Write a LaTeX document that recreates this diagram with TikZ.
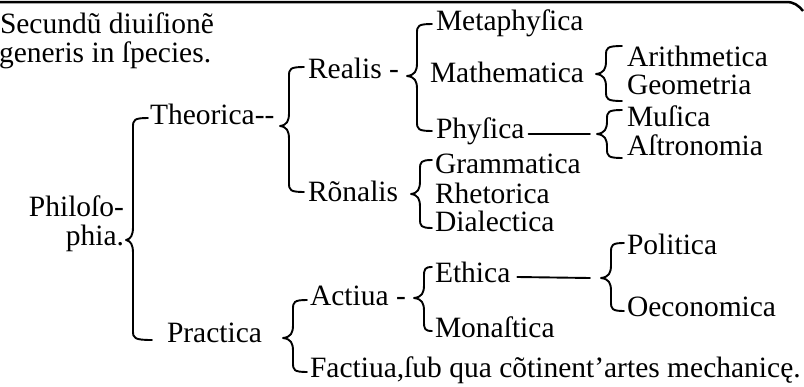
\documentclass[tikz,border=0pt]{standalone}
\usepackage{fontspec}
\setmainfont{Liberation Serif}
% brace: #1 spine x, #2/#3 top hook end, #4/#5 cusp, #6/#7 bottom hook end (px, y downward)
\newcommand\brc[7]{%
  \draw[brcline] (#2,#3) .. controls (#1+1,#3) and (#1,#3+2) .. (#1,#3+9)
    -- (#1,#5-13) .. controls (#1,#5-5) and (#1-2,#5-1) .. (#4,#5)
    .. controls (#1-2,#5+1) and (#1,#5+5) .. (#1,#5+13)
    -- (#1,#7-9) .. controls (#1,#7-2) and (#1+1,#7) .. (#6,#7);}
\begin{document}
\begin{tikzpicture}[x=1pt,y=-1pt,
  every node/.style={inner sep=0pt, outer sep=0pt, font=\fontsize{29.5}{32}\selectfont},
  lbl/.style={anchor=base west},
  brcline/.style={line width=1.9pt, line cap=round, line join=round},
  rul/.style={line width=1.9pt, line cap=round}]
\useasboundingbox (0,0) rectangle (804,386);
\fill[white] (0,0) rectangle (804,386);
\draw[line width=2.5pt] (0,2) -- (786,2) .. controls (794,2) and (798,5) .. (803,11);
% texts
\node[lbl] (sec1) at (0,33) {Secundũ diuiſionẽ};
\node[lbl] (sec2) at (-1,62) {generis in ſpecies.};
\node[anchor=base east] (phil1) at (124,216) {Philoſo-};
\node[anchor=base east] (phil2) at (124,245) {phia.};
\node[lbl] (theo) at (150,124) {Theorica-{}-};
\node[lbl] (prac) at (167,342) {Practica};
\node[lbl] (real) at (308,78) {Realis -};
\node[lbl] (ron) at (308,201) {Rõnalis};
\node[lbl] (meta) at (436,30) {Metaphyſica};
\node[lbl] (math) at (430,82) {Mathematica};
\node[lbl] (phys) at (436,138) {Phyſica};
\node[lbl] (arit) at (627,66) {Arithmetica};
\node[lbl] (geom) at (627,94) {Geometria};
\node[lbl] (musi) at (627,126) {Muſica};
\node[lbl] (astr) at (627,155) {Aſtronomia};
\node[lbl] (gram) at (435,173) {Grammatica};
\node[lbl] (rhet) at (435,203) {Rhetorica};
\node[lbl] (dial) at (435,231) {Dialectica};
\node[lbl] (acti) at (310,305) {Actiua -};
\node[lbl] (fact) at (310,377) {Factiua,ſub qua cõtinent’artes mechanicę.};
\node[lbl] (ethi) at (435,282) {Ethica};
\node[lbl] (mona) at (435,337) {Monaſtica};
\node[lbl] (poli) at (627,254) {Politica};
\node[lbl] (oeco) at (627,316) {Oeconomica};
% braces
\brc{133}{148}{118}{126}{240}{152}{340}
\brc{289}{304}{67}{280}{126}{304}{192}
\brc{417}{432}{24}{407}{76}{432}{131}
\brc{606}{622}{46}{596}{74}{622}{101}
\brc{607}{622}{110}{597}{134}{622}{158}
\brc{420}{432}{160}{411}{194}{432}{228}
\brc{293}{307}{300}{283}{338}{307}{372}
\brc{424}{432}{267}{414}{298}{432}{331}
\brc{611}{624}{243}{601}{278}{624}{311}
% connector lines
\coordinate (physcusp) at (597,134);
\coordinate (ethcusp) at (601,278);
\draw[rul] ([shift={(4pt,4pt)}]phys.base east) -- ([xshift=-7pt]physcusp);
\draw[rul] ([shift={(7pt,5pt)}]ethi.base east) -- ([xshift=-11pt]ethcusp);
\end{tikzpicture}
\end{document}
